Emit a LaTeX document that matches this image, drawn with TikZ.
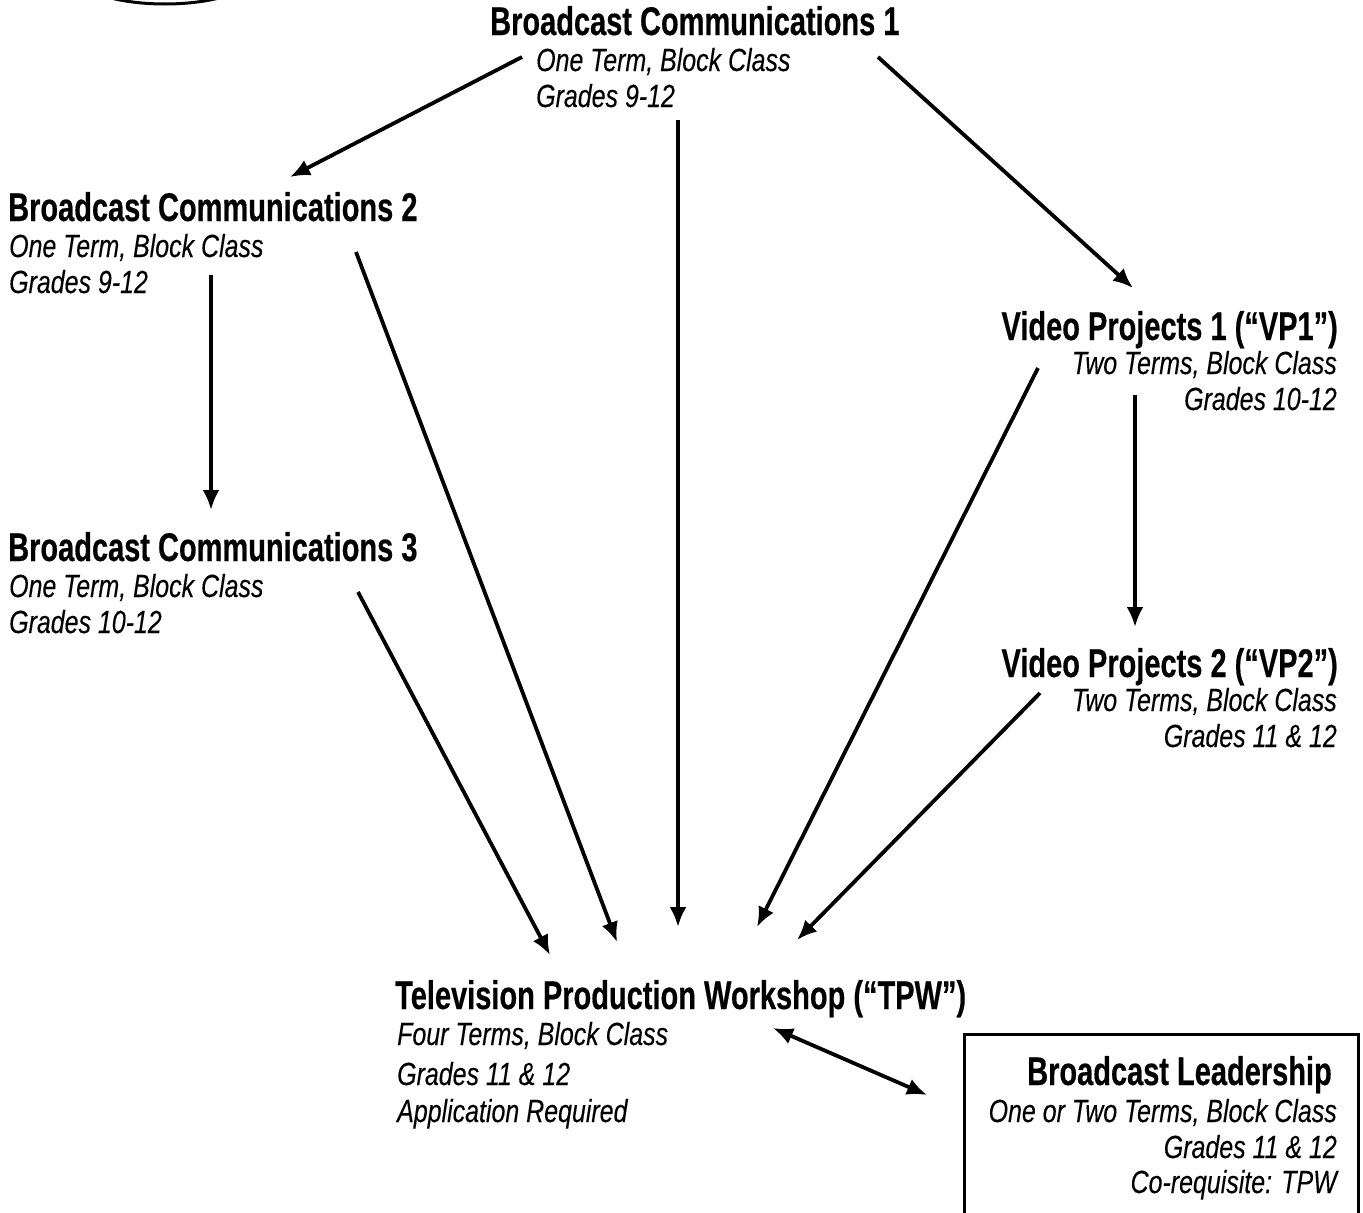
\documentclass[tikz,border=0pt]{standalone}
\usepackage{fontspec}
\newfontfamily\titlefam{Liberation Sans}[FakeStretch=0.725,FakeBold=0.4]
\newfontfamily\infofam{Liberation Sans}[FakeStretch=0.78,FakeBold=0.2]
\usetikzlibrary{arrows.meta}
\begin{document}
\begin{tikzpicture}[x=1pt,y=-1pt,
  ttl/.style={font=\titlefam\bfseries\fontsize{40}{44}\selectfont, inner sep=0pt},
  inf/.style={font=\infofam\itshape\fontsize{32}{36}\selectfont, inner sep=0pt},
  arr/.style={line width=3.8pt, -{Latex[length=20pt,width=17pt]}},
  darr/.style={line width=3.8pt, {Latex[length=20pt,width=17pt]}-{Latex[length=20pt,width=17pt]}}]
\useasboundingbox (0,0) rectangle (1363,1213);
% partial ellipse top-left
\draw[line width=3pt] (165,-26) ellipse [x radius=90, y radius=30];

% Broadcast Communications 1
\node[ttl, anchor=base west] (bc1) at (490,35) {Broadcast Communications 1};
\node[inf, anchor=base west] (bc1a) at (536,71) {One Term, Block Class};
\node[inf, anchor=base west] (bc1b) at (536,107) {Grades 9-12};

% Broadcast Communications 2
\node[ttl, anchor=base west] (bc2) at (8,221) {Broadcast Communications 2};
\node[inf, anchor=base west] (bc2a) at (9,257) {One Term, Block Class};
\node[inf, anchor=base west] (bc2b) at (9,293) {Grades 9-12};

% Broadcast Communications 3
\node[ttl, anchor=base west] (bc3) at (8,561) {Broadcast Communications 3};
\node[inf, anchor=base west] (bc3a) at (9,597) {One Term, Block Class};
\node[inf, anchor=base west] (bc3b) at (9,633) {Grades 10-12};

% Video Projects 1
\node[ttl, anchor=base east] (vp1) at (1338,340) {Video Projects 1 (“VP1”)};
\node[inf, anchor=base east] (vp1a) at (1337,374) {Two Terms, Block Class};
\node[inf, anchor=base east] (vp1b) at (1337,410) {Grades 10-12};

% Video Projects 2
\node[ttl, anchor=base east] (vp2) at (1338,677) {Video Projects 2 (“VP2”)};
\node[inf, anchor=base east] (vp2a) at (1337,711) {Two Terms, Block Class};
\node[inf, anchor=base east] (vp2b) at (1337,747) {Grades 11 \& 12};

% Television Production Workshop
\node[ttl, anchor=base west] (tpw) at (395,1009) {Television Production Workshop (“TPW”)};
\node[inf, anchor=base west] (tpwa) at (397,1045) {Four Terms, Block Class};
\node[inf, anchor=base west] (tpwb) at (397,1085) {Grades 11 \& 12};
\node[inf, anchor=base west] (tpwc) at (397,1122) {Application Required};

% Broadcast Leadership box
\node[draw, line width=3pt, inner sep=0pt, minimum width=394pt, minimum height=210pt, anchor=north west] (blbox) at (963,1033) {};
\node[ttl, anchor=base east] (bl) at (1332,1085) {Broadcast Leadership};
\node[inf, anchor=base east] (bla) at (1337,1122) {One or Two Terms, Block Class};
\node[inf, anchor=base east] (blb) at (1337,1158) {Grades 11 \& 12};
\node[inf, anchor=base east] (blc) at (1337,1193) {Co-requisite: TPW};

% connector end points
\coordinate (c1s) at (522,57);   \coordinate (c1e) at (290,177);
\coordinate (c2s) at (878,57);   \coordinate (c2e) at (1133,288);
\coordinate (c3s) at (678,120);  \coordinate (c3e) at (678,927);
\coordinate (c4s) at (211,275);  \coordinate (c4e) at (211,510);
\coordinate (c5s) at (356,252);  \coordinate (c5e) at (617,942);
\coordinate (c6s) at (358,592);  \coordinate (c6e) at (550,955);
\coordinate (c7s) at (1038,368); \coordinate (c7e) at (757,927);
\coordinate (c8s) at (1135,395); \coordinate (c8e) at (1135,627);
\coordinate (c9s) at (1040,693); \coordinate (c9e) at (797,940);
\coordinate (c10s) at (773,1028); \coordinate (c10e) at (927,1095);

\draw[arr] (c1s) -- (c1e);
\draw[arr] (c2s) -- (c2e);
\draw[arr] (c3s) -- (c3e);
\draw[arr] (c4s) -- (c4e);
\draw[arr] (c5s) -- (c5e);
\draw[arr] (c6s) -- (c6e);
\draw[arr] (c7s) -- (c7e);
\draw[arr] (c8s) -- (c8e);
\draw[arr] (c9s) -- (c9e);
\draw[darr] (c10s) -- (c10e);
\end{tikzpicture}
\end{document}
